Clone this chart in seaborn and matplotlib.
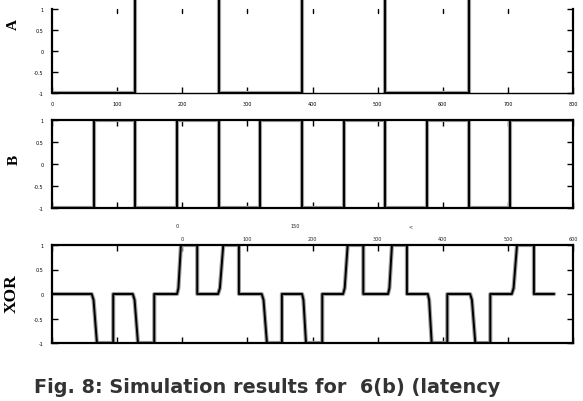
import numpy as np
import pandas as pd
import seaborn as sns
import matplotlib.pyplot as plt

# ---- data ----
a_edges = [128, 256, 384, 512, 640]
a_low, a_high = -1, 1.5          # high level sits above the cropped top of the picture
b_edges = [64, 128, 192, 256, 320, 384, 448, 512, 576, 640, 704]
b_low, b_high = -1, 1
xor_start = [61, 124, 192, 255, 322, 384, 447, 516, 577, 642, 706]
xor_flat = [69, 132, 198, 263, 330, 390, 454, 522, 583, 650, 714]
xor_end = [94, 157, 223, 287, 353, 415, 478, 545, 607, 673, 740]
xor_level = [-1, -1, 1, 1, -1, -1, 1, 1, -1, -1, 1]
xor_stop = 771
x_ticks = [0, 100, 200, 300, 400, 500, 600, 700, 800]
x_labels = ["0", "100", "200", "300", "400", "500", "600", "700", "800"]
y_ticks = [-1, -0.5, 0, 0.5, 1]
y_labels = ["-1", "-0.5", "0", "0.5", "1"]
top2_ticks = [200, 300, 400, 500, 600, 700, 800]
top2_labels = ["0", "100", "200", "300", "400", "500", "600"]
top1_ticks = [192, 374, 551]
top1_labels = ["0", "150", "<"]
caption = "Fig. 8: Simulation results for  6(b) (latency"


def square(edges, low, high, x0, x1):
    levels = [low, high]
    i = 0
    t, v = [x0], [levels[i]]
    for e in edges:
        t += [e, e]
        v += [levels[i], levels[1 - i]]
        i = 1 - i
    t.append(x1)
    v.append(levels[i])
    return pd.DataFrame({"t": t, "v": v})


def pulses(starts, flats, ends, levels, x1):
    t, v = [0], [0]
    for s, f, e, l in zip(starts, flats, ends, levels):
        t += [s, s + (f - s) * 0.35, f, e, e]
        v += [0, 0.12 * l, l, l, 0]
    t.append(x1)
    v.append(0)
    return pd.DataFrame({"t": t, "v": v})


sns.set_theme(style="white")
plt.rcParams["font.family"] = ["DejaVu Sans"]

W, H = 583, 402
fig = plt.figure(figsize=(W / 100, H / 100), dpi=100)
fig.patch.set_facecolor("white")


def frac(l, r, t, b):
    return [l / W, 1 - b / H, (r - l) / W, (b - t) / H]


# panel A: y=-1 at px 94, y=1 at px 10 -> 42 px per unit; axes run past the top edge
axA = fig.add_axes(frac(52, 573, -21, 94))
axB = fig.add_axes(frac(52, 573, 121, 209))
axX = fig.add_axes(frac(52, 573, 246, 344))

dfA = square(a_edges, a_low, a_high, 0, 800)
dfB = square(b_edges, b_low, b_high, 0, 800)
dfX = pulses(xor_start, xor_flat, xor_end, xor_level, xor_stop)

for ax, df in [(axA, dfA), (axB, dfB), (axX, dfX)]:
    sns.lineplot(data=df, x="t", y="v", sort=False, estimator=None, ax=ax,
                 color="#a0a0a0", lw=3.0)
    sns.lineplot(data=df, x="t", y="v", sort=False, estimator=None, ax=ax,
                 color="black", lw=1.4)
    ax.set_xlim(0, 800)
    ax.set_ylim(-1, 1)
    ax.set_xlabel("")
    ax.set_ylabel("")
    ax.set_facecolor("white")
    ax.set_xticks(x_ticks)
    ax.set_yticks(y_ticks)
    ax.set_yticklabels(y_labels)
    ax.tick_params(axis="both", direction="in", length=4, width=1,
                   colors="black", labelsize=3.5, pad=6,
                   top=True, bottom=True, left=True, right=True,
                   labelright=False, labeltop=False)
    for s in ax.spines.values():
        s.set_color("black")
        s.set_linewidth(1.6)

axA.set_ylim(-1, 1 + 31 / 42)
axA.spines["top"].set_visible(False)
axA.spines["left"].set_bounds(-1, 1)
axA.spines["right"].set_bounds(-1, 1)
axA.spines["bottom"].set_linewidth(1.0)
axA.tick_params(axis="x", top=False)
axA.set_xticklabels(x_labels)
for xt in x_ticks[1:-1]:
    axA.plot([xt, xt], [1, 0.9], color="black", lw=1)
axB.set_xticklabels([])
axX.set_xticklabels([])

sec2 = axX.secondary_xaxis("top")
sec2.set_xticks(top2_ticks)
sec2.set_xticklabels(top2_labels)
sec2.tick_params(direction="in", length=0, labelsize=3.5, pad=3)
sec2.spines["top"].set_visible(False)

sec1 = axX.secondary_xaxis(1.16)
sec1.set_xticks(top1_ticks)
sec1.set_xticklabels(top1_labels)
sec1.tick_params(direction="in", length=0, labelsize=3.5, pad=1)
sec1.spines["top"].set_visible(False)

lab = dict(family=["Liberation Serif", "DejaVu Serif"], weight="bold",
           size=11, rotation=90, ha="center", va="center", color="black")
fig.text(13 / W, 1 - 24 / H, "A", **lab)
fig.text(14 / W, 1 - 160 / H, "B", **lab)
lab["size"] = 12.5
fig.text(12 / W, 1 - 294 / H, "XOR", **lab)

fig.text(267 / W, 1 - 388 / H, caption, ha="center", va="center",
         family=["DejaVu Sans"], weight="bold",
         size=13.9, color="#333333")

fig.savefig("out.png", dpi=100, facecolor="white")
